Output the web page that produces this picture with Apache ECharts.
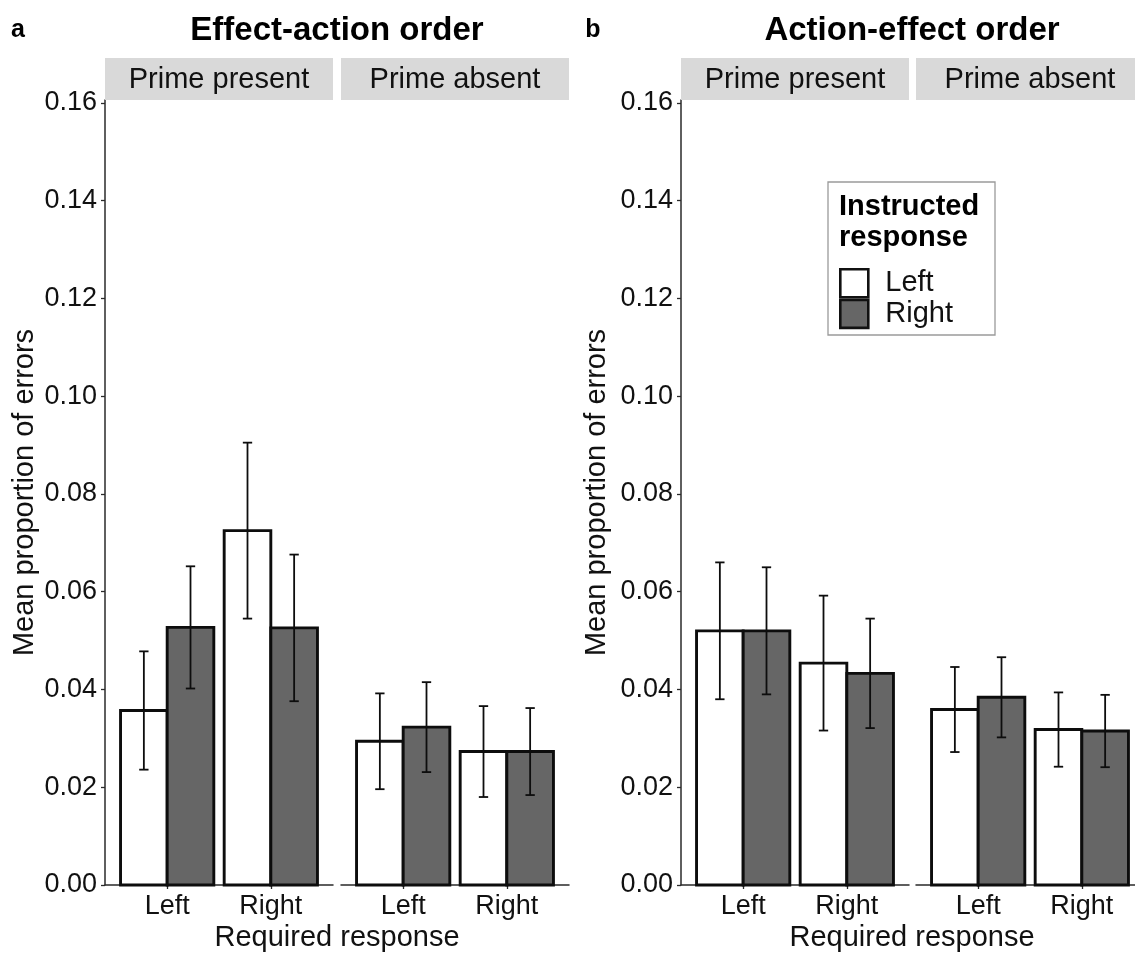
<!DOCTYPE html>
<html>
<head>
<meta charset="utf-8">
<script src="https://cdn.jsdelivr.net/npm/echarts@6/dist/echarts.min.js"></script>
<style>
  html, body { margin: 0; padding: 0; background: #ffffff; }
  #chart { width: 1135px; height: 957px; }
</style>
</head>
<body>
<div id="chart"></div>
<script>
// ---------------- data ----------------
const requiredResponse = ['Left', 'Right'];      // x categories
const instructedResponse = ['Left', 'Right'];    // fill groups
const facetLabels = ['Prime present', 'Prime absent'];
const panelTitles = ['Effect-action order', 'Action-effect order'];
const panelLetters = ['a', 'b'];
const yTicks = [0, 0.02, 0.04, 0.06, 0.08, 0.10, 0.12, 0.14, 0.16];

// [required response][instructed response]
const eaPresentMean = [[0.0357, 0.0527], [0.0725, 0.0526]];
const eaPresentErr  = [[0.0121, 0.0125], [0.0180, 0.0150]];
const eaAbsentMean  = [[0.0294, 0.0323], [0.0273, 0.0273]];
const eaAbsentErr   = [[0.0098, 0.0092], [0.0093, 0.0089]];
const aePresentMean = [[0.0520, 0.0520], [0.0454, 0.0433]];
const aePresentErr  = [[0.0140, 0.0130], [0.0138, 0.0112]];
const aeAbsentMean  = [[0.0359, 0.0384], [0.0318, 0.0315]];
const aeAbsentErr   = [[0.0087, 0.0082], [0.0076, 0.0074]];

// ---------------- layout / style ----------------
const FONT = "'Liberation Sans', Arial, Helvetica, sans-serif";
const TXT = '#111111';
const AX = '#2a2a2a';
const fills = ['#ffffff', '#666666'];
const facetMeans = [eaPresentMean, eaAbsentMean, aePresentMean, aeAbsentMean];
const facetErrs  = [eaPresentErr, eaAbsentErr, aePresentErr, aeAbsentErr];
const gridBoxes = [
  { left: 105, width: 228 },
  { left: 341, width: 228 },
  { left: 681, width: 228 },
  { left: 916, width: 228 }
];
const GRID_TOP = 100, GRID_H = 785;
const STRIP_TOP = 58, STRIP_H = 42;

const chart = echarts.init(document.getElementById('chart'), null, { renderer: 'canvas' });

const grids = gridBoxes.map(b => ({
  left: b.left, top: GRID_TOP, width: b.width, height: GRID_H,
  containLabel: false, outerBoundsMode: 'none'
}));

const xAxes = gridBoxes.map((b, i) => ({
  type: 'value', gridIndex: i, min: 0.4, max: 2.6,
  axisLine: { show: true, onZero: false, lineStyle: { color: AX, width: 1.5 } },
  axisTick: { show: true, length: 4, customValues: [1, 2], lineStyle: { color: AX, width: 1.3 } },
  axisLabel: {
    show: true, customValues: [1, 2], margin: 8,
    formatter: v => requiredResponse[Math.round(v) - 1],
    fontSize: 27, color: TXT, fontFamily: FONT
  },
  splitLine: { show: false }
}));

const yAxes = gridBoxes.map((b, i) => ({
  type: 'value', gridIndex: i, min: 0, max: 0.1606,
  show: (i % 2 === 0),
  axisLine: { show: true, lineStyle: { color: AX, width: 1.5 } },
  axisTick: { show: true, length: 4, customValues: yTicks, lineStyle: { color: AX, width: 1.3 } },
  axisLabel: {
    show: true, customValues: yTicks, margin: 8,
    formatter: v => v.toFixed(2),
    fontSize: 27, color: TXT, fontFamily: FONT
  },
  splitLine: { show: false }
}));

const HALF = 0.225;   // half bar width in category units (dodge width 0.9)
const CAP = 0.045;    // errorbar cap half width

function makeRender(k) {
  return function (params, api) {
    const x = api.value(0), v = api.value(1), e = api.value(2);
    const cx = x + (k === 0 ? -HALF : HALF);
    const p0 = api.coord([cx - HALF, v]);
    const p1 = api.coord([cx + HALF, 0]);
    const top = api.coord([cx, v + e]);
    const bot = api.coord([cx, v - e]);
    const cl = api.coord([cx - CAP, v])[0];
    const cr = api.coord([cx + CAP, v])[0];
    const lineStyle = { stroke: '#0d0d0d', lineWidth: 1.8 };
    return {
      type: 'group',
      children: [
        { type: 'rect',
          shape: { x: p0[0], y: p0[1], width: p1[0] - p0[0], height: p1[1] - p0[1] },
          style: { fill: fills[k], stroke: '#0d0d0d', lineWidth: 2.9 } },
        { type: 'line', shape: { x1: top[0], y1: top[1], x2: bot[0], y2: bot[1] }, style: lineStyle, z2: 5 },
        { type: 'line', shape: { x1: cl, y1: top[1], x2: cr, y2: top[1] }, style: lineStyle, z2: 5 },
        { type: 'line', shape: { x1: cl, y1: bot[1], x2: cr, y2: bot[1] }, style: lineStyle, z2: 5 }
      ]
    };
  };
}

const series = [];
gridBoxes.forEach((b, g) => {
  instructedResponse.forEach((name, k) => {
    series.push({
      type: 'custom', name: name,
      xAxisIndex: g, yAxisIndex: g,
      itemStyle: { color: fills[k], borderColor: '#111111', borderWidth: 2.6 },
      renderItem: makeRender(k),
      encode: { x: 0, y: 1 },
      data: requiredResponse.map((r, i) => [i + 1, facetMeans[g][i][k], facetErrs[g][i][k]]),
      animation: false,
      clip: false
    });
  });
});

// ---------------- decorations (text, strips, legend box) ----------------
const graphics = [];
// strips
gridBoxes.forEach((b, g) => {
  graphics.push({ type: 'rect',
    shape: { x: b.left, y: STRIP_TOP, width: b.width, height: STRIP_H },
    style: { fill: '#d9d9d9' }, z: 1 });
  graphics.push({ type: 'text', x: b.left + b.width / 2, y: STRIP_TOP + STRIP_H / 2 + 1,
    style: { text: facetLabels[g % 2], fill: TXT, font: '29px ' + FONT,
             textAlign: 'center', textVerticalAlign: 'middle' }, z: 2 });
});
// panel titles & letters
const panelCenters = [337, 912];
const yTitleX = [25, 597];
panelTitles.forEach((t, p) => {
  graphics.push({ type: 'text', x: panelCenters[p], y: 31,
    style: { text: t, fill: '#000', font: 'bold 33px ' + FONT,
             textAlign: 'center', textVerticalAlign: 'middle' } });
  graphics.push({ type: 'text', x: p === 0 ? 18 : 593, y: 30,
    style: { text: panelLetters[p], fill: '#000', font: 'bold 25px ' + FONT,
             textAlign: 'center', textVerticalAlign: 'middle' } });
  graphics.push({ type: 'text', x: panelCenters[p], y: 938,
    style: { text: 'Required response', fill: TXT, font: '29px ' + FONT,
             textAlign: 'center', textVerticalAlign: 'middle' } });
  graphics.push({ type: 'text', x: yTitleX[p], y: GRID_TOP + GRID_H / 2, rotation: Math.PI / 2,
    style: { text: 'Mean proportion of errors', fill: TXT, font: '29px ' + FONT,
             textAlign: 'center', textVerticalAlign: 'middle' } });
});
// legend box and title
graphics.push({ type: 'rect', shape: { x: 828, y: 182, width: 167, height: 153 },
  style: { fill: '#ffffff', stroke: '#9a9a9a', lineWidth: 1.3 }, z: 3 });
graphics.push({ type: 'text', x: 839, y: 207,
  style: { text: 'Instructed', fill: '#000', font: 'bold 29px ' + FONT,
           textAlign: 'left', textVerticalAlign: 'middle' }, z: 4 });
graphics.push({ type: 'text', x: 839, y: 238,
  style: { text: 'response', fill: '#000', font: 'bold 29px ' + FONT,
           textAlign: 'left', textVerticalAlign: 'middle' }, z: 4 });

const option = {
  backgroundColor: '#ffffff',
  animation: false,
  grid: grids,
  xAxis: xAxes,
  yAxis: yAxes,
  legend: {
    orient: 'vertical', left: 839, top: 268, padding: 0,
    itemWidth: 28, itemHeight: 28, itemGap: 0, icon: 'rect',
    selectedMode: false, z: 10,
    textStyle: { fontSize: 29, color: TXT, fontFamily: FONT, lineHeight: 28, padding: [0, 0, 0, 12] },
    data: instructedResponse.map((n, k) => ({
      name: n, icon: 'rect',
      itemStyle: { color: fills[k], borderColor: '#111111', borderWidth: 2.6 }
    }))
  },
  graphic: { elements: graphics },
  series: series
};
chart.setOption(option);
</script>
</body>
</html>
